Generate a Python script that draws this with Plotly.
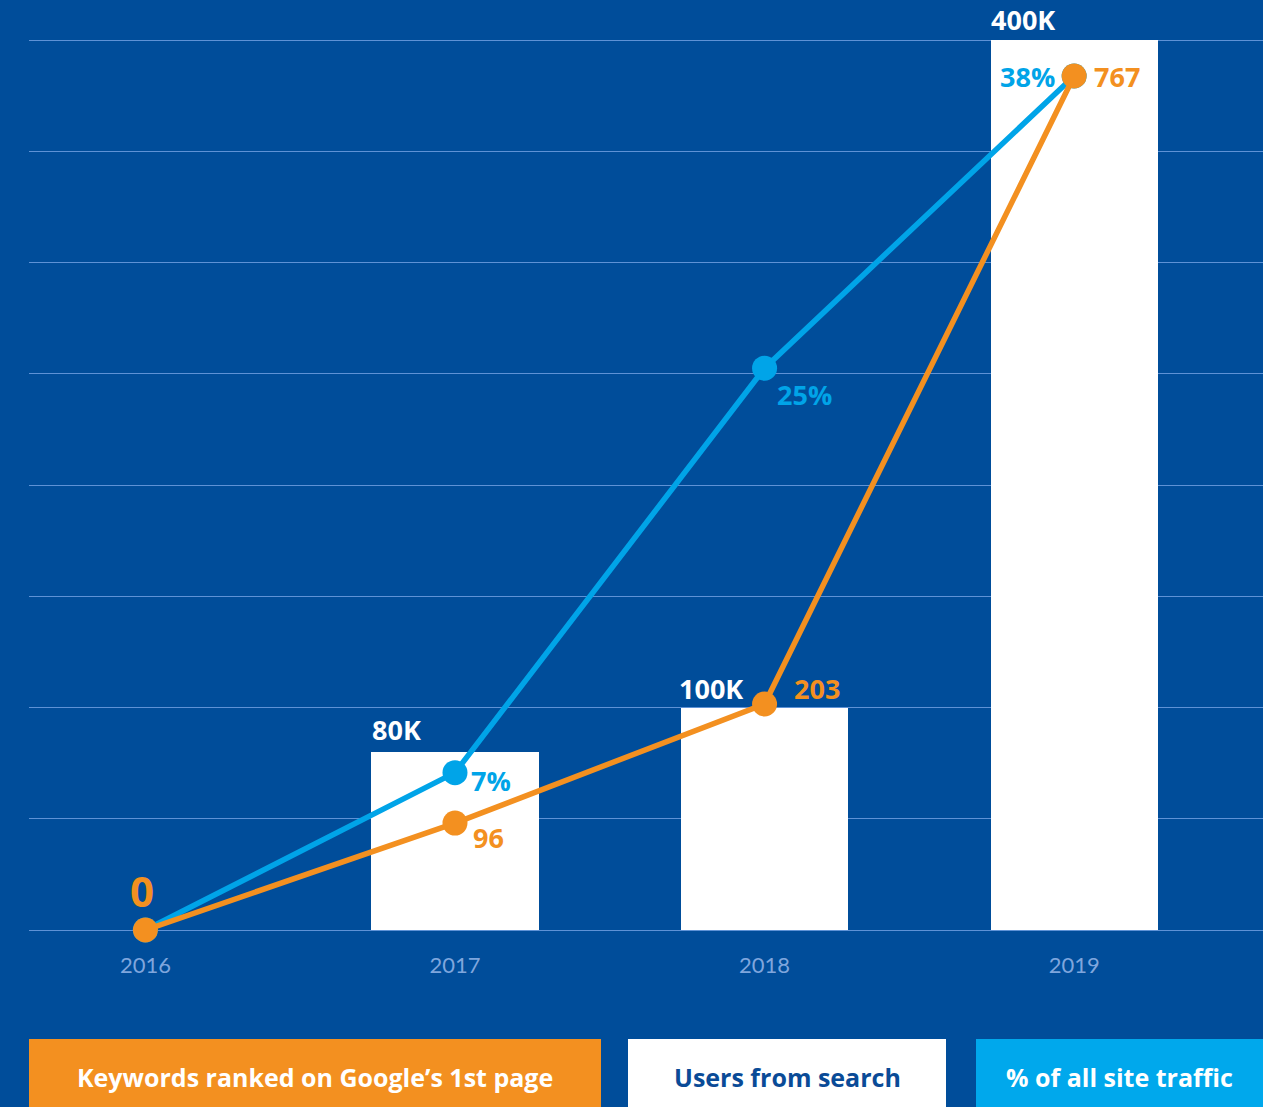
import plotly.graph_objects as go

years = ["2016", "2017", "2018", "2019"]
users = [0, 80000, 100000, 400000]
users_labels = ["", "80K", "100K", "400K"]
traffic_pct = [0, 7, 25, 38]
traffic_labels = ["", "7%", "25%", "38%"]
keywords = [0, 96, 203, 767]
keywords_labels = ["0", "96", "203", "767"]
legend_labels = ["Keywords ranked on Google’s 1st page", "Users from search", "% of all site traffic"]

BG = "#004D9A"
ORANGE = "#F39020"
BLUE = "#00A4E8"
LBLUE = "#00A8EC"
GRID = "#5E92D6"
FONT = "Open Sans"

W, H = 1263, 1107
xi = list(range(len(years)))

fig = go.Figure()
fig.add_trace(go.Bar(x=xi, y=users, width=0.54, marker=dict(color="white", line=dict(width=0)),
                     yaxis="y", hoverinfo="skip"))
fig.add_trace(go.Scatter(x=xi, y=traffic_pct, yaxis="y2", mode="lines+markers",
                         line=dict(color=BLUE, width=5.5), marker=dict(size=25, color=BLUE),
                         cliponaxis=False, hoverinfo="skip"))
fig.add_trace(go.Scatter(x=xi, y=keywords, yaxis="y3", mode="lines+markers",
                         line=dict(color=ORANGE, width=5.5), marker=dict(size=25, color=ORANGE),
                         cliponaxis=False, hoverinfo="skip"))

ann = []
bold = dict(family=FONT, weight="bold")
# bar labels
bar_shift = {1: (-58, 23), 2: (-54, 19), 3: (-51, 20)}
for i, lab in enumerate(users_labels):
    if not lab:
        continue
    dx, dy = bar_shift[i]
    ann.append(dict(x=i, y=users[i], xref="x", yref="y", text=lab, showarrow=False,
                    xshift=dx, yshift=dy, font=dict(size=27, color="white", **bold)))
# traffic labels
tr_shift = {1: (36, -8), 2: (40, -26), 3: (-47, 0)}
for i, lab in enumerate(traffic_labels):
    if not lab:
        continue
    dx, dy = tr_shift[i]
    ann.append(dict(x=i, y=traffic_pct[i], xref="x", yref="y2", text=lab, showarrow=False,
                    xshift=dx, yshift=dy, font=dict(size=27, color=BLUE, **bold)))
# keyword labels
kw_shift = {0: (-3, 40), 1: (34, -14), 2: (52, 15), 3: (43, 0)}
for i, lab in enumerate(keywords_labels):
    dx, dy = kw_shift[i]
    size = 42 if i == 0 else 27
    ann.append(dict(x=i, y=keywords[i], xref="x", yref="y3", text=lab, showarrow=False,
                    xshift=dx, yshift=dy, font=dict(size=size, color=ORANGE, **bold)))

# legend boxes (pixel -> paper)
def px(x):
    return x / W

def py(y):
    return 1 - y / H

boxes = [(29, 601, ORANGE, "white"), (628, 946, "white", "#0A4B97"), (976, 1263, LBLUE, "white")]
shapes = []
for (x0, x1, fill, tc), lab in zip(boxes, legend_labels):
    shapes.append(dict(type="rect", xref="paper", yref="paper", x0=px(x0), x1=px(x1),
                       y0=py(1107), y1=py(1039), fillcolor=fill, line=dict(width=0), layer="above"))
    ann.append(dict(x=px((x0 + x1) / 2), y=py(1077), xref="paper", yref="paper", text=lab,
                    showarrow=False, xanchor="center", yanchor="middle",
                    font=dict(size=25, color=tc, **bold)))

top_val = 402000
top_px = 930 - 890 * top_val / 400000
ydom = [py(930), py(top_px)]
fig.update_layout(
    width=W, height=H,
    margin=dict(l=0, r=0, t=0, b=0),
    paper_bgcolor=BG, plot_bgcolor=BG,
    showlegend=False,
    bargap=0,
    xaxis=dict(domain=[px(29), 1], range=[-0.376, 3.61], tickmode="array", tickvals=xi,
               ticktext=years, showgrid=False, zeroline=False, showline=False, ticks="",
               tickfont=dict(family="Lato", size=22, color="#7FA6DD"), ticklabelstandoff=20),
    yaxis=dict(domain=ydom, range=[0, top_val], tickmode="array",
               tickvals=[0, 50000, 100000, 150000, 200000, 250000, 300000, 350000, 400000],
               showgrid=True, gridcolor=GRID,
               gridwidth=1.2, zeroline=True, zerolinecolor=GRID, zerolinewidth=1.2,
               showticklabels=False, ticks="", layer="below traces"),
    yaxis2=dict(overlaying="y", range=[0, 38 * 890 / 854 * top_val / 400000], showgrid=False,
                zeroline=False, showticklabels=False, visible=False),
    yaxis3=dict(overlaying="y", range=[0, 767 * 890 / 854 * top_val / 400000], showgrid=False,
                zeroline=False, showticklabels=False, visible=False),
    annotations=ann,
    shapes=shapes,
)

fig.write_html("out.html")
